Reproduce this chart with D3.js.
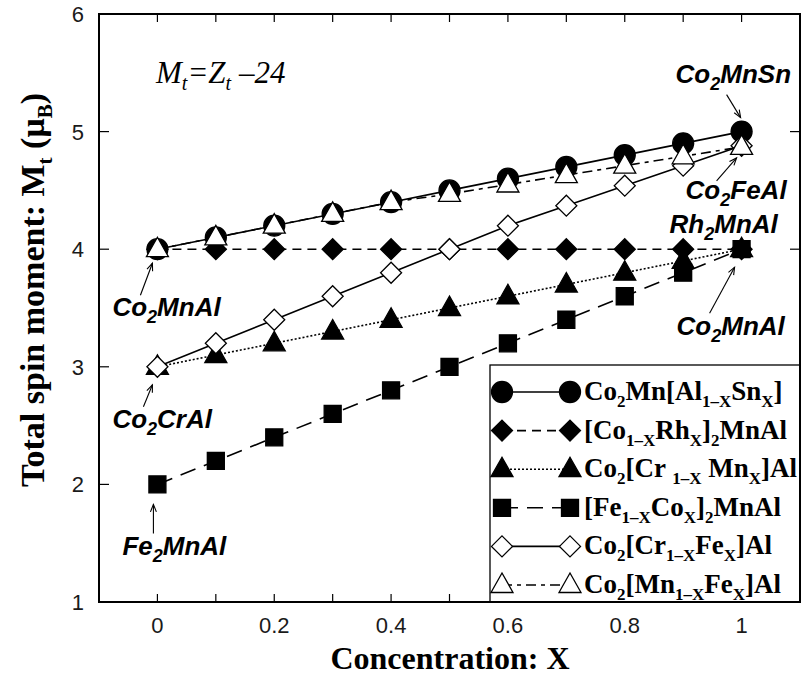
<!DOCTYPE html>
<html>
<head>
<meta charset="utf-8">
<script src="https://cdn.jsdelivr.net/npm/d3@7"></script>
<style>
  body { margin: 0; background: #fff; }
  svg { display: block; }
</style>
</head>
<body>
<svg id="chart" width="802" height="675"></svg>
<script>
// Concentration X and total spin moment (μB) for each alloy series
const concentration = [0, 0.1, 0.2, 0.3, 0.4, 0.5, 0.6, 0.7, 0.8, 0.9, 1.0];
const co2MnAlSn   = [4.0, 4.1, 4.2, 4.3, 4.4, 4.5, 4.6, 4.7, 4.8, 4.9, 5.0];
const coRh2MnAl   = [4.0, 4.0, 4.0, 4.0, 4.0, 4.0, 4.0, 4.0, 4.0, 4.0, 4.0];
const co2CrMnAl   = [3.0, 3.1, 3.2, 3.3, 3.4, 3.5, 3.6, 3.7, 3.8, 3.9, 4.0];
const feCo2MnAl   = [2.0, 2.2, 2.4, 2.6, 2.8, 3.0, 3.2, 3.4, 3.6, 3.8, 4.0];
const co2CrFeAl   = [3.0, 3.2, 3.4, 3.6, 3.8, 4.0, 4.2, 4.37, 4.54, 4.71, 4.88];
const co2MnFeAl   = [4.0, 4.1, 4.2, 4.3, 4.4, 4.47, 4.55, 4.63, 4.71, 4.79, 4.87];

const xTickValues = [0, 0.2, 0.4, 0.6, 0.8, 1];
const xMinorTicks = [-0.1, 0, 0.1, 0.2, 0.3, 0.4, 0.5, 0.6, 0.7, 0.8, 0.9, 1, 1.1];
const yTickValues = [1, 2, 3, 4, 5, 6];

// Legend labels: [text, isSubscript]
const seriesLabels = [
  [["Co",0],["2",1],["Mn[Al",0],["1–X",1],["Sn",0],["X",1],["]",0]],
  [["[Co",0],["1–X",1],["Rh",0],["X",1],["]",0],["2",1],["MnAl",0]],
  [["Co",0],["2",1],["[Cr ",0],["1–X",1],[" Mn",0],["X",1],["]Al",0]],
  [["[Fe",0],["1–X",1],["Co",0],["X",1],["]",0],["2",1],["MnAl",0]],
  [["Co",0],["2",1],["[Cr",0],["1–X",1],["Fe",0],["X",1],["]Al",0]],
  [["Co",0],["2",1],["[Mn",0],["1–X",1],["Fe",0],["X",1],["]Al",0]]
];

const series = [
  { values: co2MnAlSn, marker: "circle",   filled: true,  dash: null },
  { values: coRh2MnAl, marker: "diamond",  filled: true,  dash: "9,6" },
  { values: co2CrMnAl, marker: "triangle", filled: true,  dash: "2,2" },
  { values: feCo2MnAl, marker: "square",   filled: true,  dash: "16,9" },
  { values: co2CrFeAl, marker: "diamond",  filled: false, dash: null },
  { values: co2MnFeAl, marker: "triangle", filled: false, dash: "10,5,4,5" }
];

// Compound annotations: anchor point in data units, text/arrow offsets in px
const annotations = [
  { at: [1, 5.0],  parts: [["Co",0],["2",1],["MnSn",0]], dx: -66, dy: -49, arrow: [[-15,-37],[-1,-14]] },
  { at: [1, 4.87], parts: [["Co",0],["2",1],["FeAl",0]], dx: -56, dy: 52,  arrow: [[-25,34],[-5,11]] },
  { at: [1, 4.0],  parts: [["Rh",0],["2",1],["MnAl",0]], dx: -72, dy: -16, arrow: null },
  { at: [1, 4.0],  parts: [["Co",0],["2",1],["MnAl",0]], dx: -65, dy: 86,  arrow: [[-32,64],[-7,18]] },
  { at: [0, 4.0],  parts: [["Co",0],["2",1],["MnAl",0]], dx: -45, dy: 67,  arrow: [[-17,46],[-5,14]] },
  { at: [0, 3.0],  parts: [["Co",0],["2",1],["CrAl",0]], dx: -45, dy: 61,  arrow: [[-14,40],[-5,18]] },
  { at: [0, 2.0],  parts: [["Fe",0],["2",1],["MnAl",0]], dx: -35, dy: 71,  arrow: [[-4,49],[-4,20]] }
];

const svg = d3.select("#chart");
const frame = { left: 99, right: 800, top: 14, bottom: 602 };

const x = d3.scaleLinear().domain([-0.1, 1.1]).range([frame.left, frame.right]);
const y = d3.scaleLinear().domain([1, 6]).range([frame.bottom, frame.top]);

const serif = "'Liberation Serif', 'Times New Roman', serif";
const sans = "'Liberation Sans', Arial, Helvetica, sans-serif";

// rich text helper: subscripts as shifted smaller tspans
function richText(sel, parts, subSize, subShift) {
  let down = 0;
  parts.forEach(([t, sub]) => {
    const ts = sel.append("tspan").text(t);
    if (sub) {
      ts.attr("font-size", subSize).attr("dy", subShift - down);
      down = subShift;
    } else {
      ts.attr("dy", -down);
      down = 0;
    }
  });
}

function markerPath(type) {
  switch (type) {
    case "circle":   return d3.symbol(d3.symbolCircle, Math.PI * 10.5 * 10.5)();
    case "diamond":  return "M0,-10.5L10.5,0L0,10.5L-10.5,0Z";
    case "triangle": return "M0,-12L11,7.5L-11,7.5Z";
    case "square":   return "M-8.5,-8.5H8.5V8.5H-8.5Z";
  }
}

// ticks (all four sides, pointing inward)
const axes = svg.append("g").attr("stroke", "#000").attr("stroke-width", 1.2);
xMinorTicks.forEach(v => {
  axes.append("line").attr("x1", x(v)).attr("x2", x(v)).attr("y1", frame.bottom).attr("y2", frame.bottom - 8);
  axes.append("line").attr("x1", x(v)).attr("x2", x(v)).attr("y1", frame.top).attr("y2", frame.top + 8);
});
yTickValues.forEach(v => {
  axes.append("line").attr("x1", frame.left).attr("x2", frame.left + 10).attr("y1", y(v)).attr("y2", y(v));
  axes.append("line").attr("x1", frame.right).attr("x2", frame.right - 10).attr("y1", y(v)).attr("y2", y(v));
});

// tick labels
svg.append("g").selectAll("text").data(xTickValues).join("text")
  .attr("x", d => x(d)).attr("y", 633)
  .attr("text-anchor", "middle")
  .attr("font-family", sans).attr("font-size", 22).attr("fill", "#1a1a1a")
  .text(d => d3.format("~g")(d));
svg.append("g").selectAll("text").data(yTickValues).join("text")
  .attr("x", 84).attr("y", d => y(d) + 8)
  .attr("text-anchor", "end")
  .attr("font-family", sans).attr("font-size", 22).attr("fill", "#1a1a1a")
  .text(d => d);

// series lines and markers, drawn in legend order
const line = d3.line().x((d, i) => x(concentration[i])).y(d => y(d));
const plot = svg.append("g");
series.forEach(s => {
  plot.append("path").attr("d", line(s.values))
    .attr("fill", "none").attr("stroke", "#000").attr("stroke-width", 1.6)
    .attr("stroke-dasharray", s.dash);
  plot.append("g").selectAll("path").data(s.values).join("path")
    .attr("transform", (d, i) => `translate(${x(concentration[i])},${y(d)})`)
    .attr("d", markerPath(s.marker))
    .attr("fill", s.filled ? "#000" : "#fff")
    .attr("stroke", "#000").attr("stroke-width", 1.3);
});

// formula
const formula = svg.append("text").attr("x", 156).attr("y", 83)
  .attr("font-family", serif).attr("font-style", "italic").attr("font-size", 31);
richText(formula, [["M",0],["t",1],["=Z",0],["t",1],[" –24",0]], 20, 7);

// compound annotations with arrows
const ann = svg.append("g");
annotations.forEach(a => {
  const px = x(a.at[0]), py = y(a.at[1]);
  const t = ann.append("text").attr("x", px + a.dx).attr("y", py + a.dy)
    .attr("font-family", sans).attr("font-weight", "bold").attr("font-style", "italic")
    .attr("font-size", 26).attr("fill", "#000");
  richText(t, a.parts, 18, 7);
  if (a.arrow) {
    const [[x1, y1], [x2, y2]] = a.arrow;
    const sx = px + x1, sy = py + y1, ex = px + x2, ey = py + y2;
    ann.append("line").attr("x1", sx).attr("y1", sy).attr("x2", ex).attr("y2", ey)
      .attr("stroke", "#000").attr("stroke-width", 1.1);
    const ang = Math.atan2(ey - sy, ex - sx), L = 8, spread = 0.38;
    const p1 = [ex - L * Math.cos(ang - spread), ey - L * Math.sin(ang - spread)];
    const p2 = [ex - L * Math.cos(ang + spread), ey - L * Math.sin(ang + spread)];
    ann.append("path").attr("d", `M${p1}L${ex},${ey}L${p2}`)
      .attr("fill", "none").attr("stroke", "#000").attr("stroke-width", 1.1);
  }
});

// legend
const lg = svg.append("g");
lg.append("rect").attr("x", 490).attr("y", 365).attr("width", frame.right - 490).attr("height", frame.bottom - 365)
  .attr("fill", "#fff").attr("stroke", "#000").attr("stroke-width", 1.3);
series.forEach((s, i) => {
  const cy = 392 + i * 38.6;
  lg.append("line").attr("x1", 502).attr("x2", 570).attr("y1", cy).attr("y2", cy)
    .attr("stroke", "#000").attr("stroke-width", 1.6).attr("stroke-dasharray", s.dash);
  [502, 570].forEach(mx => {
    lg.append("path").attr("transform", `translate(${mx},${cy})`).attr("d", markerPath(s.marker))
      .attr("fill", s.filled ? "#000" : "#fff").attr("stroke", "#000").attr("stroke-width", 1.3);
  });
  const t = lg.append("text").attr("x", 584).attr("y", cy + 8)
    .attr("font-family", serif).attr("font-weight", "bold").attr("font-size", 27).attr("fill", "#000");
  richText(t, seriesLabels[i], 17, 7);
});

// frame
svg.append("rect").attr("x", frame.left).attr("y", frame.top)
  .attr("width", frame.right - frame.left).attr("height", frame.bottom - frame.top)
  .attr("fill", "none").attr("stroke", "#000").attr("stroke-width", 2);

// axis titles
svg.append("text").attr("x", 450).attr("y", 669).attr("text-anchor", "middle")
  .attr("font-family", serif).attr("font-weight", "bold").attr("font-size", 32)
  .text("Concentration: X");
const yl = svg.append("text").attr("transform", "translate(44,290) rotate(-90)")
  .attr("text-anchor", "middle")
  .attr("font-family", serif).attr("font-weight", "bold").attr("font-size", 34);
richText(yl, [["Total spin moment: M",0],["t",1],[" (μ",0],["B",1],[")",0]], 21, 8);
</script>
</body>
</html>
